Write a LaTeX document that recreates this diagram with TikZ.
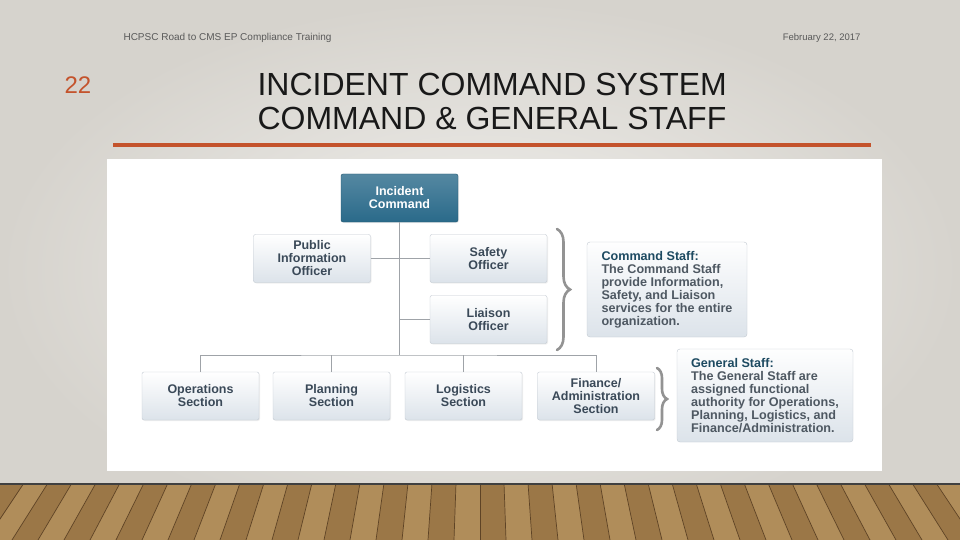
\documentclass[tikz,border=0pt]{standalone}
\usepackage{fontspec}
\setmainfont{Liberation Sans}
\usetikzlibrary{decorations.pathreplacing,shadows}

\definecolor{icsteal}{HTML}{2A6A8A}
\definecolor{boxline}{HTML}{C2C9D1}
\definecolor{boxbot}{HTML}{DCE3EA}
\definecolor{boxtext}{HTML}{3A4958}
\definecolor{notetext}{HTML}{4E5862}
\definecolor{rulered}{HTML}{C4532C}
\definecolor{linegray}{HTML}{9FA3A8}
\definecolor{slidein}{HTML}{F1F0ED}
\definecolor{slideout}{HTML}{D6D3CD}
\definecolor{woodmid}{HTML}{9B7747}
\definecolor{wooddark}{HTML}{5E4325}
\definecolor{woodlight}{HTML}{BE9C68}

\begin{document}
\begin{tikzpicture}[
	x=1pt, y=-1pt,
	unit/.style = {shape=rectangle, draw=boxline, rounded corners=2pt,
		top color=white, bottom color=boxbot,
		minimum width=117pt, minimum height=48pt, align=center,
		text=boxtext, font=\bfseries\fontsize{12.5}{13}\selectfont,
		drop shadow={opacity=0.12, shadow xshift=1pt, shadow yshift=-1pt}},
	chief/.style = {unit, draw=icsteal!80!black, top color=icsteal!80!white,
		bottom color=icsteal, text=white},
	note/.style = {shape=rectangle, draw=boxline, rounded corners=3pt,
		top color=white!97!boxbot, bottom color=boxbot, align=left,
		text=notetext, inner sep=6pt,
		font=\bfseries\fontsize{12.6}{13}\selectfont},
	link/.style = {draw=linegray, line width=0.9pt},
	staffbrace/.style = {decorate, draw=gray!85, line width=2.6pt,
		line cap=round}]
	\useasboundingbox (0,0) rectangle (960,540);

	% slide background
	\shade[inner color=slidein, outer color=slideout]
		(0,0) rectangle (960,540);
	\node[anchor=west, text=gray!70!black, font=\fontsize{10}{11}\selectfont]
		(footer) at (120,38) {HCPSC Road to CMS EP Compliance Training};
	\node[anchor=east, text=gray!70!black, font=\fontsize{9.5}{11}\selectfont]
		(date) at (864,38) {February 22, 2017};
	\node[text=rulered, font=\fontsize{24}{26}\selectfont]
		(pageno) at (78,85) {22};
	\node[anchor=west, align=left, text=black!90,
		font=\fontsize{32}{34}\selectfont]
		(title) at (254,101) {INCIDENT COMMAND SYSTEM\\COMMAND \& GENERAL STAFF};
	\draw[rulered, line width=4pt] (113,145) -- (871,145);

	% floor
	\begin{scope}
		\clip (0,483) rectangle (960,540);
		\fill[woodmid] (0,483) rectangle (960,540);
		\foreach \i in {0,2,...,42}
			\fill[woodlight, opacity=0.6]
				(\i*24-24,483) -- (\i*24,483) -- (\i*26-40,540) -- (\i*26-66,540) -- cycle;
		\foreach \i in {0,...,42}
			\draw[wooddark, line width=0.7pt] (\i*24-24,483) -- (\i*26-66,540);
		\fill[black!75] (0,481) rectangle (960,485);
	\end{scope}

	% chart panel
	\fill[white] (107,159) rectangle (882,471);

	\node[chief] (ic) at (399.5,198) {Incident\\Command};
	\node[unit] (pio) at (312,258.5) {Public\\Information\\Officer};
	\node[unit] (safety) at (488.5,258.5) {Safety\\Officer};
	\node[unit] (liaison) at (488.5,319.5) {Liaison\\Officer};
	\node[unit] (ops) at (200.5,396) {Operations\\Section};
	\node[unit] (plan) at (331.5,396) {Planning\\Section};
	\node[unit] (logi) at (463.5,396) {Logistics\\Section};
	\node[unit] (fin) at (596,396) {Finance/\\Administration\\Section};

	\coordinate (hub) at (399.5,355);
	\draw[link] (ic.south) -- (hub);
	\draw[link] (pio.east) -- (safety.west);
	\draw[link] (liaison.west) -- (liaison.west -| hub);
	\draw[link] (ops.north) |- (hub) -| (fin.north);
	\draw[link] (plan.north) -- (plan.north |- hub);
	\draw[link] (logi.north) -- (logi.north |- hub);

	% staff notes
	\node[note, minimum width=160pt, minimum height=95pt] (cmdnote) at (667,289.5)
		{{\color{icsteal!70!black}Command Staff:}\\The Command Staff\\provide Information,\\Safety, and Liaison\\services for the entire\\organization.};
	\node[note, minimum width=176pt, minimum height=93pt] (gennote) at (765,395.5)
		{{\color{icsteal!70!black}General Staff:}\\The General Staff are\\assigned functional\\authority for Operations,\\Planning, Logistics, and\\Finance/Administration.};

	\coordinate (cmdtop) at (557,229);
	\coordinate (cmdbot) at (557,350);
	\coordinate (gentop) at (657,368);
	\coordinate (genbot) at (657,430);
	\draw[staffbrace, decoration={brace, amplitude=13pt}] (cmdtop) -- (cmdbot);
	\draw[staffbrace, decoration={brace, amplitude=10pt}] (gentop) -- (genbot);
\end{tikzpicture}
\end{document}
